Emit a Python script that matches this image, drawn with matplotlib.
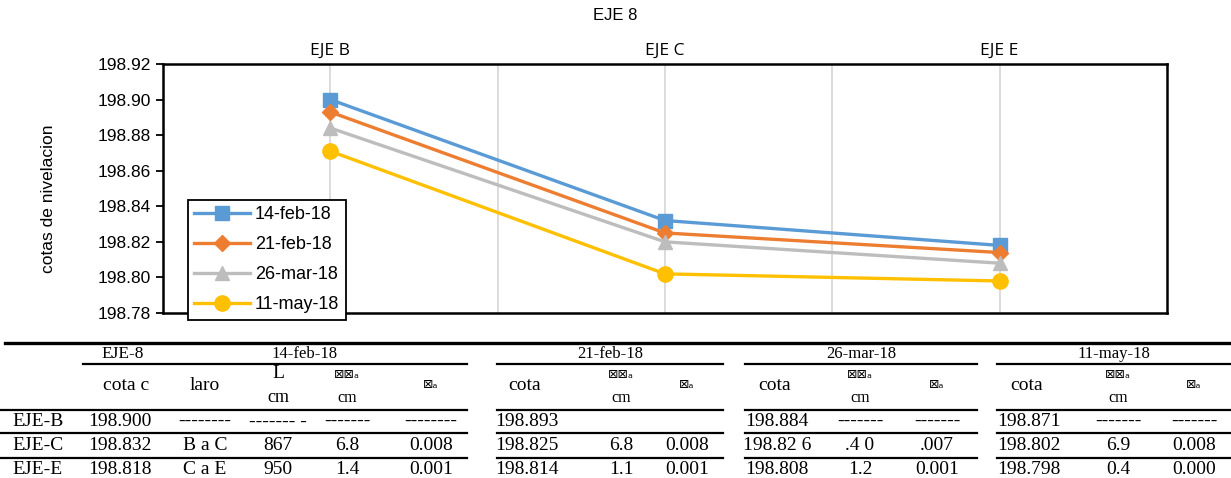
import matplotlib.pyplot as plt
from matplotlib.lines import Line2D

# datos del grafico
ejes = ["EJE B", "EJE C", "EJE E"]
fechas = ["14-feb-18", "21-feb-18", "26-mar-18", "11-may-18"]
cota_14feb = [198.900, 198.832, 198.818]
cota_21feb = [198.893, 198.825, 198.814]
cota_26mar = [198.884, 198.820, 198.808]
cota_11may = [198.871, 198.802, 198.798]

# datos de la tabla (texto tal como aparece)
filas = ["EJE-B", "EJE-C", "EJE-E"]
laro = ["--------", "B a C", "C a E"]
largo_cm = ["------- -", "867", "950"]
tabla_14feb = [["198.900", "-------", "--------"],
               ["198.832", "6.8", "0.008"],
               ["198.818", "1.4", "0.001"]]
tabla_21feb = [["198.893", "", ""],
               ["198.825", "6.8", "0.008"],
               ["198.814", "1.1", "0.001"]]
tabla_26mar = [["198.884", "-------", "-------"],
               ["198.82 6", ".4 0", ".007"],
               ["198.808", "1.2", "0.001"]]
tabla_11may = [["198.871", "-------", "-------"],
               ["198.802", "6.9", "0.008"],
               ["198.798", "0.4", "0.000"]]

colores = ["#5B9BD5", "#ED7D31", "#BDBDBD", "#FFC000"]
marcadores = ["s", "D", "^", "o"]
tamanos = [10, 8, 10, 11]

W, H = 1231, 478
fig = plt.figure(figsize=(W / 100, H / 100), dpi=100)


def fx(x):
    return x / W


def fy(y):
    return 1 - y / H


ax = fig.add_axes([fx(163), fy(313), fx(1167) - fx(163), fy(64) - fy(313)])
x = [1, 2, 3]
series = [cota_14feb, cota_21feb, cota_26mar, cota_11may]
for i, s in enumerate(series):
    ax.plot(x, s, color=colores[i], lw=2.4, marker=marcadores[i],
            markersize=tamanos[i], label=fechas[i], zorder=3)

ax.set_xlim(0.5, 3.5)
ax.set_ylim(198.78, 198.92)
ax.set_yticks([198.78 + 0.02 * k for k in range(8)])
ax.yaxis.set_major_formatter(plt.FormatStrFormatter("%.2f"))
ax.xaxis.tick_top()
ax.set_xticks(x)
ax.set_xticklabels(ejes, fontsize=12.5, family="Open Sans")
ax.set_xticks([1.5, 2.5], minor=True)
ax.tick_params(axis="x", which="both", length=0, pad=4)
ax.tick_params(axis="y", direction="out", length=5, width=1.3, labelsize=12.5)
for lab in ax.get_yticklabels():
    lab.set_family("Liberation Sans")
ax.grid(axis="x", which="both", color="#D9D9D9", lw=1.3, zorder=0)
for sp in ax.spines.values():
    sp.set_linewidth(1.8)
    sp.set_color("black")
ax.set_ylabel("cotas de nivelacion", fontsize=12.5, family="Liberation Sans")
ax.yaxis.set_label_coords(-0.1065, 0.46)

fig.text(fx(615), fy(16), "EJE 8", ha="center", va="center",
         fontsize=12, family="Liberation Sans")

leg = ax.legend(loc="upper left", bbox_to_anchor=(fx(188), fy(200)),
                bbox_transform=fig.transFigure, fancybox=False,
                edgecolor="black", framealpha=1, borderpad=0.35,
                labelspacing=0.72, handlelength=3.1, handletextpad=0.25,
                borderaxespad=0,
                prop={"family": "Liberation Sans", "size": 13})
leg.get_frame().set_linewidth(1.3)
leg.set_zorder(5)

# --- tabla ---
serif = "Liberation Serif"


def linea(x0, x1, y, lw=1.6):
    fig.add_artist(Line2D([fx(x0), fx(x1)], [fy(y), fy(y)],
                          color="black", lw=lw))


def texto(x, y, s, size=14, family=serif):
    fig.text(fx(x), fy(y), s, ha="center", va="center",
             fontsize=size, family=family)


def simbolo(x, y, s):
    fig.text(fx(x), fy(y), s, ha="center", va="center",
             fontsize=9, family="DejaVu Sans")


segmentos = [(83, 467), (497, 723), (745, 977), (997, 1231)]
linea(5, W, 343, lw=2.4)
for a, b in segmentos:
    linea(a, b, 364)
for yl in [410, 433, 458]:
    linea(0, segmentos[0][1], yl)
    for a, b in segmentos[1:]:
        linea(a, b, yl)

texto(123, 354, "EJE-8", size=12.5)
cabeceras = [(305, fechas[0]), (610, fechas[1]), (861, fechas[2]), (1114, fechas[3])]
for xc, f in cabeceras:
    texto(xc, 354, f, size=12)

# columnas: (cota, delta, ratio) por fecha
cols = [(120, 347, 431), (527, 621, 687), (777, 860, 937), (1029, 1118, 1194)]
cab_cota = ["cota c", "cota", "cota", "cota"]
for k, (c1, c2, c3) in enumerate(cols):
    texto(c1 + (6 if k == 0 else -2), 385, cab_cota[k], size=14)
    simbolo(c2, 375, "\u22a0\u22a0\u2090")
    texto(c2, 398, "cm", size=11.5)
    simbolo(c3, 385, "\u22a0\u2090")
texto(205, 385, "laro", size=14)
texto(278, 373, "L", size=14)
texto(278, 397, "cm", size=13)

filas_y = [421, 446, 470]
tablas = [tabla_14feb, tabla_21feb, tabla_26mar, tabla_11may]
for r, yr in enumerate(filas_y):
    texto(38, yr, filas[r])
    texto(205, yr, laro[r])
    texto(278, yr, largo_cm[r])
    for k, (c1, c2, c3) in enumerate(cols):
        fila = tablas[k][r]
        texto(c1, yr, fila[0])
        texto(c2, yr, fila[1])
        texto(c3, yr, fila[2])

fig.savefig("out.png", dpi=100)
